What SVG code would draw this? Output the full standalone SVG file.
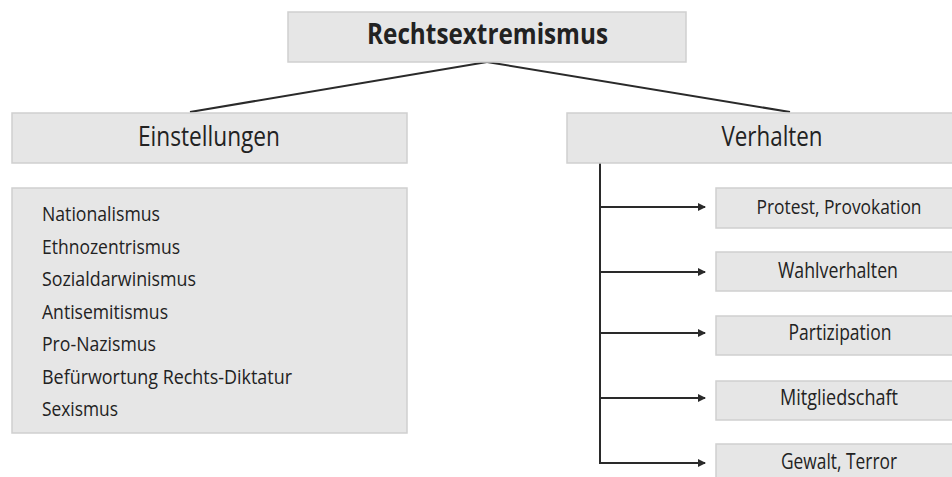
<svg xmlns="http://www.w3.org/2000/svg" width="952" height="477" viewBox="0 0 952 477">
<defs>
<style>
.box{fill:#e6e6e6;stroke:#cfcfcf;stroke-width:1.5}
.t{font-family:"Open Sans","Liberation Sans",sans-serif;fill:#222}
.c{text-anchor:middle}
.line{stroke:#2a2a2a;stroke-width:2;fill:none}
</style>
<marker id="arr" viewBox="0 0 8 8" refX="7" refY="4" markerWidth="4" markerHeight="4" orient="auto" markerUnits="strokeWidth">
<path d="M0,0 L8,4 L0,8 Z" fill="#2a2a2a"/>
</marker>
</defs>
<rect width="952" height="477" fill="#fff"/>
<g id="connectors">
<path class="line" d="M487,62 L190,112"/>
<path class="line" d="M487,62 L790,112"/>
<path class="line" d="M600,163 L600,463"/>
<path class="line" d="M600,207 H705" marker-end="url(#arr)"/>
<path class="line" d="M600,272 H705" marker-end="url(#arr)"/>
<path class="line" d="M600,333 H705" marker-end="url(#arr)"/>
<path class="line" d="M600,398 H705" marker-end="url(#arr)"/>
<path class="line" d="M599,463 H705" marker-end="url(#arr)"/>
</g>
<g id="rechtsextremismus">
<rect class="box" x="288" y="12" width="398" height="50"/>
<text class="t c" x="487.5" y="44" font-size="28" font-weight="bold" textLength="241" lengthAdjust="spacingAndGlyphs">Rechtsextremismus</text>
</g>
<g id="einstellungen">
<rect class="box" x="12" y="113" width="395" height="50"/>
<text class="t c" x="209" y="145.5" font-size="27" textLength="142" lengthAdjust="spacingAndGlyphs">Einstellungen</text>
</g>
<g id="einstellungen-liste">
<rect class="box" x="12" y="188" width="395" height="245"/>
<text class="t" x="42" y="221" font-size="20" textLength="118" lengthAdjust="spacingAndGlyphs">Nationalismus</text>
<text class="t" x="42" y="253.5" font-size="20" textLength="138" lengthAdjust="spacingAndGlyphs">Ethnozentrismus</text>
<text class="t" x="42" y="286" font-size="20" textLength="154" lengthAdjust="spacingAndGlyphs">Sozialdarwinismus</text>
<text class="t" x="42" y="318.5" font-size="20" textLength="126" lengthAdjust="spacingAndGlyphs">Antisemitismus</text>
<text class="t" x="42" y="351" font-size="20" textLength="114" lengthAdjust="spacingAndGlyphs">Pro-Nazismus</text>
<text class="t" x="42" y="383.5" font-size="20" textLength="250" lengthAdjust="spacingAndGlyphs">Befürwortung Rechts-Diktatur</text>
<text class="t" x="42" y="416" font-size="20" textLength="76" lengthAdjust="spacingAndGlyphs">Sexismus</text>
</g>
<g id="verhalten">
<rect class="box" x="567" y="113" width="387" height="50"/>
<text class="t c" x="772" y="145.5" font-size="27" textLength="101" lengthAdjust="spacingAndGlyphs">Verhalten</text>
</g>
<g id="protest">
<rect class="box" x="716" y="188" width="238" height="40"/>
<text class="t c" x="839" y="214" font-size="20" textLength="165" lengthAdjust="spacingAndGlyphs">Protest, Provokation</text>
</g>
<g id="wahlverhalten">
<rect class="box" x="716" y="252" width="238" height="39"/>
<text class="t c" x="838" y="278" font-size="21" textLength="120" lengthAdjust="spacingAndGlyphs">Wahlverhalten</text>
</g>
<g id="partizipation">
<rect class="box" x="716" y="316" width="238" height="39"/>
<text class="t c" x="840" y="340" font-size="21" textLength="103" lengthAdjust="spacingAndGlyphs">Partizipation</text>
</g>
<g id="mitgliedschaft">
<rect class="box" x="716" y="381" width="238" height="39"/>
<text class="t c" x="839" y="405" font-size="21" textLength="118" lengthAdjust="spacingAndGlyphs">Mitgliedschaft</text>
</g>
<g id="gewalt">
<rect class="box" x="716" y="444" width="238" height="35"/>
<text class="t c" x="839" y="469" font-size="21" textLength="116" lengthAdjust="spacingAndGlyphs">Gewalt, Terror</text>
</g>
</svg>
